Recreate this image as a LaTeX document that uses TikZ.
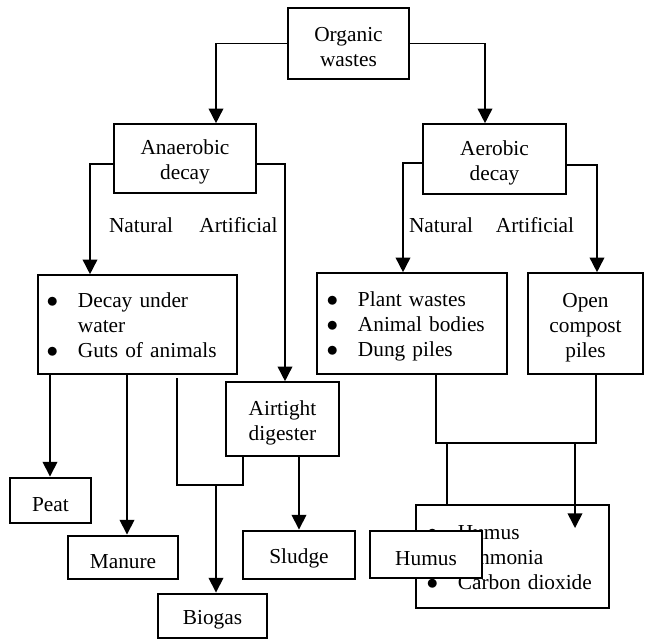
\documentclass[tikz,border=0pt]{standalone}
\usepackage{fontspec}
\setmainfont{Liberation Serif}
\usetikzlibrary{arrows.meta}

\tikzset{
  sz/.style 2 args={minimum width=#1*0.75pt, minimum height=#2*0.75pt},
  box/.style={draw, line width=1.2pt, align=center, inner sep=0pt},
  endbox/.style={draw, line width=2.2pt, inner sep=0pt, fill=white},
  listbox/.style={draw, line width=1.2pt, align=left, inner ysep=0pt},
  ln/.style={line width=1.2pt},
  arr/.style={line width=1.2pt, -{Triangle[width=11pt,length=11pt]}},
}
% pushes the first line a little down
\newcommand{\tfix}{\rule{0pt}{16.5pt}}
\newcommand{\blist}[1]{\raisebox{-2.5pt}[\height][\depth]{\begin{tabular}{@{}c@{\hspace{14.8pt}}l@{}}#1\end{tabular}}}

\begin{document}
\begin{tikzpicture}[x=0.75pt,y=-0.75pt,font=\fontsize{16}{18.75}\selectfont]
\useasboundingbox (0,0) rectangle (645,639);
%Boxes
\node[box, sz={121}{71}] (org) at (348.5,43.5) {\tfix Organic\\wastes};
\node[box, sz={142}{69}] (anaer) at (185,158.5) {\tfix Anaerobic\\decay};
\node[box, sz={143}{70}] (aer) at (494.5,159) {\tfix Aerobic\\decay};
\node[listbox, sz={199}{99}, inner xsep=6.5pt, text width=136.25pt] (decay) at (137.5,324.5)
  {\blist{$\bullet$ & Decay under\\ & water\\ $\bullet$ & Guts of animals}};
\node[listbox, sz={190}{101}, inner xsep=7.3pt, text width=127.9pt] (plant) at (412,323.5)
  {\blist{$\bullet$ & Plant wastes\\ $\bullet$ & Animal bodies\\ $\bullet$ & Dung piles}};
\node[box, sz={115}{101}] (compost) at (585.5,323.5) {\tfix Open\\compost\\piles};
\node[box, sz={113}{74}] (airtight) at (282.5,419) {\tfix Airtight\\digester};
\node[listbox, sz={193}{103}, inner xsep=8pt, text width=128.75pt] (prod) at (512.5,556.5)
  {\blist{$\bullet$ & Humus\\ $\bullet$ & Ammonia\\ $\bullet$ & Carbon dioxide}};
\node[endbox, sz={81}{45}] (peat) at (50.5,500.5) {\tfix Peat};
\node[endbox, sz={110}{43}] (manure) at (123,557.5) {\tfix Manure};
\node[endbox, sz={109}{44}] (biogas) at (212.5,616) {\tfix Biogas};
\node[endbox, sz={112}{48}] (sludge) at (299,555) {\tfix Sludge};
%Text
\node (lnat) at (141,225) {Natural};
\node (lart) at (238.5,225) {Artificial};
\node (rnat) at (441,225) {Natural};
\node (rart) at (535,225) {Artificial};
%Joints
\coordinate (bstart) at (177,378);
\coordinate (bl) at (177,485);
\coordinate (br) at (243,485);
\coordinate (ml) at (436,443);
\coordinate (mr) at (596,443);
\coordinate (tip) at (575,528);
%Arrows
\draw[arr] (org.west) -| (216,0 |- anaer.north);
\draw[arr] (org.east) -| (485,0 |- aer.north);
\draw[arr] (anaer.west |- 0,164) -| (90,0 |- decay.north);
\draw[arr] (anaer.east |- 0,164) -| (285,0 |- airtight.north);
\draw[arr] (aer.west |- 0,163) -| (403,0 |- plant.north);
\draw[arr] (aer.east |- 0,165) -| (597,0 |- compost.north);
\draw[arr] (50,0 |- decay.south) -- (50,0 |- peat.north);
\draw[arr] (127,0 |- decay.south) -- (127,0 |- manure.north);
\draw[ln] (bstart) -- (bl) -- (br) -- (br |- airtight.south);
\draw[arr] (216,0 |- bl) -- (216,0 |- biogas.north);
\draw[arr] (airtight.south -| sludge.north) -- (sludge.north);
\draw[ln] (ml |- plant.south) -- (ml) -- (mr) -- (mr |- compost.south);
\draw[ln] (447,0 |- ml) -- (447,0 |- prod.north);
\draw[arr] (tip |- ml) -- (tip);
%Humus box lies over the list
\node[endbox, sz={112}{47}] (humus) at (426,554.5) {\tfix Humus};
\end{tikzpicture}
\end{document}
